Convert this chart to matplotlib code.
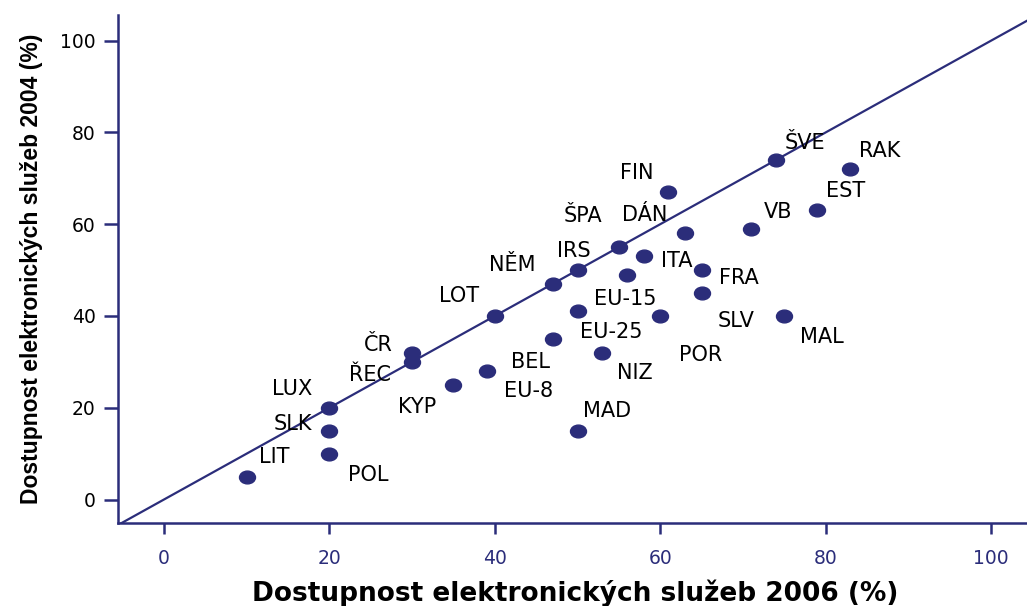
import matplotlib
matplotlib.use("Agg")
import matplotlib.pyplot as plt
from matplotlib.path import Path
from matplotlib.transforms import Affine2D

# data: (2006, 2004) availability of e-services
countries = ["ŠVE", "RAK", "FIN", "EST", "VB", "DÁN", "ŠPA", "ITA", "IRS", "EU-15",
             "FRA", "NĚM", "SLV", "LOT", "EU-25", "POR", "MAL", "BEL", "NIZ", "ČR",
             "ŘEC", "EU-8", "KYP", "LUX", "SLK", "MAD", "POL", "LIT"]
x2006 = [74, 83, 61, 79, 71, 63, 55, 58, 50, 56,
         65, 47, 65, 40, 50, 60, 75, 47, 53, 30,
         30, 39, 35, 20, 20, 50, 20, 10]
y2004 = [74, 72, 67, 63, 59, 58, 55, 53, 50, 49,
         50, 47, 45, 40, 41, 40, 40, 35, 32, 32,
         30, 28, 25, 20, 15, 15, 10, 5]
ticks = [0, 20, 40, 60, 80, 100]

# label offsets in pixels (dx right, dy down)
label_off = [(29, -17), (29, -18), (-32, -19), (28, -19), (27, -17), (-40, -18), (-36, -31), (33, 5), (-4, -19), (-2, 24),
             (37, 8), (-40, -19), (35, 28), (-36, -20), (34, 21), (40, 39), (38, 21), (-22, 23), (33, 20), (-34, -8),
             (-42, 13), (42, 20), (-36, 22), (-37, -19), (-37, -7), (30, -20), (39, 21), (28, -20)]

navy = "#2b2d7a"

fig = plt.figure(figsize=(10.27, 6.06), dpi=100)
ax = fig.add_axes([118 / 1027, 83 / 606, 909 / 1027, 508 / 606])

ellipse = Path.unit_circle().transformed(Affine2D().scale(1.25, 1.0))
ax.plot(x2006, y2004, linestyle="none", marker=ellipse, markersize=11.5,
        color=navy, zorder=3)
ax.plot([-10, 110], [-10, 110], color=navy, linewidth=1.6, zorder=2)

for name, x, y, (dx, dy) in zip(countries, x2006, y2004, label_off):
    ax.annotate(name, (x, y), xytext=(dx * 0.72, -dy * 0.72), textcoords="offset points",
                ha="center", va="center", fontsize=15, family="DejaVu Sans", color="black")

ax.set_xlim(-5.56, 104.35)
ax.set_ylim(-5.12, 105.6)
ax.set_xticks(ticks)
ax.set_yticks(ticks)
ax.spines["top"].set_visible(False)
ax.spines["right"].set_visible(False)
for s in ["left", "bottom"]:
    ax.spines[s].set_color(navy)
    ax.spines[s].set_linewidth(1.8)
ax.tick_params(axis="both", direction="out", color=navy, width=1.8)
ax.tick_params(axis="y", length=10, pad=6, labelsize=13.5, labelcolor="black")
ax.tick_params(axis="x", length=8, pad=11, labelsize=13.5, labelcolor=navy)

ax.set_xlabel("Dostupnost elektronických služeb 2006 (%)", fontsize=19, fontweight="bold",
              family="DejaVu Sans")
ax.set_ylabel("Dostupnost elektronických služeb 2004 (%)", fontsize=16.5, fontweight="bold",
              family="Liberation Sans")
ax.xaxis.set_label_coords(0.5035, -0.112)
ax.yaxis.set_label_coords(-0.082, 0.5)

fig.savefig("out.png", dpi=100)
